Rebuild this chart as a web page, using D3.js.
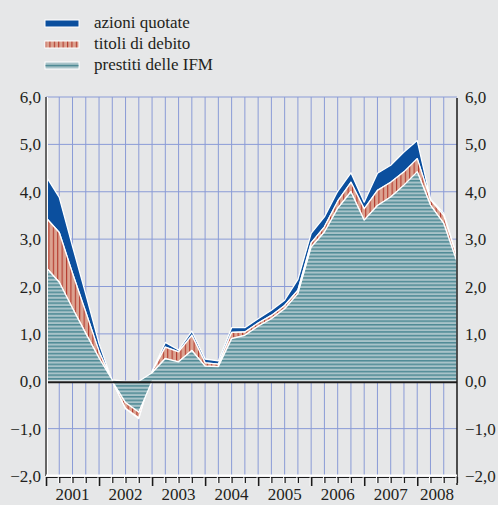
<!DOCTYPE html>
<html>
<head>
<meta charset="utf-8">
<script src="https://cdn.jsdelivr.net/npm/d3@7"></script>
<style>
  body { margin: 0; background: #e6e7e8; }
</style>
</head>
<body>
<svg></svg>
<script>
// quarterly data, end of quarter, 2000Q4 .. 2008Q3 (stacked areas)
const quarters = d3.range(32);
const prestiti = [2.40, 2.09, 1.54, 1.01, 0.49, 0.03, -0.45, -0.65, 0.18, 0.48, 0.41, 0.65, 0.32, 0.31, 0.90, 0.97,
  1.16, 1.32, 1.53, 1.85, 2.83, 3.15, 3.65, 4.00, 3.40, 3.71, 3.89, 4.14, 4.42, 3.72, 3.33, 2.52];
const titoli = [1.05, 1.05, 0.74, 0.45, 0.14, 0.00, -0.12, -0.12, 0.02, 0.24, 0.21, 0.32, 0.07, 0.05, 0.13, 0.07,
  0.07, 0.07, 0.07, 0.07, 0.09, 0.11, 0.15, 0.20, 0.24, 0.32, 0.31, 0.28, 0.28, 0.11, 0.17, 0.10];
const azioni = [0.88, 0.74, 0.57, 0.38, 0.17, 0.00, -0.01, -0.02, 0.01, 0.10, 0.04, 0.09, 0.08, 0.07, 0.10, 0.09,
  0.09, 0.11, 0.11, 0.23, 0.20, 0.21, 0.21, 0.20, 0.14, 0.36, 0.36, 0.42, 0.38, 0.02, 0.05, 0.01];
const years = ["2001", "2002", "2003", "2004", "2005", "2006", "2007", "2008"];
const yTicks = [-2, -1, 0, 1, 2, 3, 4, 5, 6];
const seriesNames = ["azioni quotate", "titoli di debito", "prestiti delle IFM"];

const W = 498, H = 505;
const FONT = "'Liberation Serif', 'Times New Roman', serif";
const svg = d3.select("svg").attr("width", W).attr("height", H)
  .attr("font-family", FONT);

const x = d3.scaleLinear().domain([0, 31]).range([46, 457]);
const y = d3.scaleLinear().domain([-2, 6]).range([476, 97]);

// patterns
const defs = svg.append("defs");
const pRed = defs.append("pattern").attr("id", "pRed").attr("patternUnits", "userSpaceOnUse")
  .attr("width", 4.4).attr("height", 10);
pRed.append("rect").attr("width", 4.4).attr("height", 10).attr("fill", "#dca391");
pRed.append("rect").attr("width", 1.1).attr("height", 10).attr("fill", "#b3392c");

const pTeal = defs.append("pattern").attr("id", "pTeal").attr("patternUnits", "userSpaceOnUse")
  .attr("width", 10).attr("height", 3.6);
pTeal.append("rect").attr("width", 10).attr("height", 3.6).attr("fill", "#a8c3c9");
pTeal.append("rect").attr("width", 10).attr("height", 1.5).attr("fill", "#4f8a95");

const fills = { prestiti: "url(#pTeal)", titoli: "url(#pRed)", azioni: "#0b4f9e" };

// background
svg.append("rect").attr("width", W).attr("height", H).attr("fill", "#e6e7e8");

// grid
const grid = svg.append("g").attr("stroke", "#8a9bd6").attr("stroke-width", 1);
grid.selectAll(".v").data(quarters.slice(1, 31)).join("line")
  .attr("x1", d => x(d)).attr("x2", d => x(d))
  .attr("y1", y(6)).attr("y2", y(-2));
grid.selectAll(".h").data(yTicks.filter(d => d > -2)).join("line")
  .attr("x1", x(0)).attr("x2", x(31))
  .attr("y1", d => y(d)).attr("y2", d => y(d));

// stacked areas
const rows = quarters.map((k, i) => ({ k: k, prestiti: prestiti[i], titoli: titoli[i], azioni: azioni[i] }));
const stack = d3.stack().keys(["prestiti", "titoli", "azioni"]).offset(d3.stackOffsetDiverging);
const layers = stack(rows);
const area = d3.area()
  .x(d => x(d.data.k))
  .y0(d => y(d[0]))
  .y1(d => y(d[1]));

svg.append("g").selectAll("path").data(layers.slice().reverse()).join("path")
  .attr("d", area)
  .attr("fill", d => fills[d.key])
  .attr("stroke", "#fff")
  .attr("stroke-width", 1.3)
  .attr("stroke-linejoin", "round");

// zero line
svg.append("line").attr("x1", x(0)).attr("x2", x(31)).attr("y1", y(0) + 1).attr("y2", y(0) + 1)
  .attr("stroke", "#1a1a1a").attr("stroke-width", 2);

// left and right axis lines
svg.append("line").attr("x1", x(0) + 1.5).attr("x2", x(0) + 1.5).attr("y1", y(6)).attr("y2", y(-2))
  .attr("stroke", "#fff").attr("stroke-width", 1);
svg.append("line").attr("x1", x(0)).attr("x2", x(0)).attr("y1", y(6)).attr("y2", y(-2))
  .attr("stroke", "#666").attr("stroke-width", 2);
svg.append("line").attr("x1", x(31)).attr("x2", x(31)).attr("y1", y(6) + 1).attr("y2", y(-2) + 9)
  .attr("stroke", "#1a1a1a").attr("stroke-width", 1.5);

// y labels both sides
const fmt = d => d3.format(".1f")(d).replace(".", ",");
const yl = svg.append("g").attr("font-size", 17).attr("fill", "#231f20");
yl.selectAll(".l").data(yTicks).join("text")
  .attr("x", 41).attr("y", d => y(d) + 6).attr("text-anchor", "end")
  .text(fmt);
yl.selectAll(".r").data(yTicks).join("text")
  .attr("x", 465).attr("y", d => y(d) + 6).attr("text-anchor", "start")
  .text(fmt);

// bottom axis
const bx = svg.append("g");
bx.append("line").attr("x1", x(0)).attr("x2", x(31)).attr("y1", y(-2) + 1.5).attr("y2", y(-2) + 1.5)
  .attr("stroke", "#1a1a1a").attr("stroke-width", 1);
bx.append("line").attr("x1", x(0)).attr("x2", x(31)).attr("y1", y(-2) - 0.5).attr("y2", y(-2) - 0.5)
  .attr("stroke", "#fff").attr("stroke-width", 2);
bx.selectAll(".tw").data(quarters).join("line")
  .attr("x1", d => x(d) - 1).attr("x2", d => x(d) - 1)
  .attr("y1", y(-2) + 1).attr("y2", d => y(-2) + (d % 4 === 0 ? 10 : 7))
  .attr("stroke", "#fff").attr("stroke-width", 1);
bx.selectAll(".tk").data(quarters).join("line")
  .attr("x1", d => x(d) + 0.5).attr("x2", d => x(d) + 0.5)
  .attr("y1", y(-2) + 1).attr("y2", d => y(-2) + (d % 4 === 0 ? 10 : 7))
  .attr("stroke", "#1a1a1a").attr("stroke-width", d => d % 4 === 0 ? 1.6 : 1.2);
bx.selectAll("text").data(years).join("text")
  .attr("fill", "#231f20")
  .attr("x", (d, i) => x((i * 4 + Math.min(i * 4 + 4, 31)) / 2))
  .attr("y", 500).attr("text-anchor", "middle").attr("font-size", 17)
  .text(d => d);

// legend
const legend = svg.append("g");
const lg = legend.selectAll("g").data(seriesNames).join("g")
  .attr("transform", (d, i) => `translate(45, ${20 + i * 21})`);
lg.append("rect").attr("width", 34).attr("height", 7)
  .attr("fill", (d, i) => i === 0 ? "#0b4f9e" : i === 1 ? "url(#pRed)" : "#a8c3c9")
  .attr("stroke", "#fff").attr("stroke-width", 1);
lg.filter((d, i) => i === 2).append("rect").attr("x", 0.5).attr("y", 2.8).attr("width", 33).attr("height", 1.6)
  .attr("fill", "#4f8a95");
lg.append("text").attr("fill", "#231f20")
  .attr("x", 49).attr("y", 7.5).attr("font-size", 17).text(d => d);
</script>
</body>
</html>
